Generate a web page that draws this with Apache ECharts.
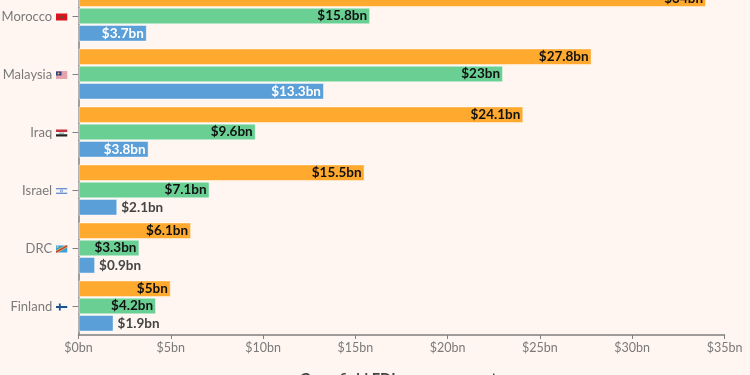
<!DOCTYPE html>
<html>
<head>
<meta charset="utf-8">
<style>
  html, body { margin: 0; padding: 0; background: #fff6f1; }
  #main { width: 750px; height: 375px; }
</style>
<script src="https://cdn.jsdelivr.net/npm/echarts@6/dist/echarts.min.js"></script>
</head>
<body>
<div id="main"></div>
<script>
const countries = ['Morocco', 'Malaysia', 'Iraq', 'Israel', 'DRC', 'Finland']
const orangeValues = [34, 27.8, 24.1, 15.5, 6.1, 5]
const greenValues = [15.8, 23, 9.6, 7.1, 3.3, 4.2]
const blueValues = [3.7, 13.3, 3.8, 2.1, 0.9, 1.9]
const xTicks = [0, 5, 10, 15, 20, 25, 30, 35]
const axisTitle = 'Greenfield FDI announcements'

// emoji flags have no colour font here, so small svg pictures stand in
const svgFlag = (inner) =>
  'data:image/svg+xml;charset=utf-8,' +
  encodeURIComponent(
    `<svg xmlns="http://www.w3.org/2000/svg" width="12" height="9" viewBox="0 0 12 9">${inner}</svg>`
  )
const flags = {
  Morocco: svgFlag('<rect y="1" width="12" height="7" fill="#d8141e"/><circle cx="6" cy="4.5" r="1.2" fill="#2a6b3a"/>'),
  Malaysia: svgFlag('<rect y="1" width="12" height="7" fill="#f3f3f3"/><rect y="1" width="12" height="1" fill="#d9546a"/><rect y="3" width="12" height="1" fill="#d9546a"/><rect y="5" width="12" height="1" fill="#d9546a"/><rect y="7" width="12" height="1" fill="#d9546a"/><rect y="1" width="6" height="4" fill="#2b3f8f"/><circle cx="3" cy="3" r="1" fill="#e8c53a"/>'),
  Iraq: svgFlag('<rect y="1" width="12" height="2.4" fill="#c8313e"/><rect y="3.4" width="12" height="2.3" fill="#f5f5f5"/><rect y="5.7" width="12" height="2.3" fill="#222"/><rect x="3.5" y="4.2" width="5" height="0.8" fill="#3f8f58"/>'),
  Israel: svgFlag('<rect y="1" width="12" height="7" fill="#f5f5f5"/><rect y="1.8" width="12" height="1" fill="#3b6fc4"/><rect y="6.2" width="12" height="1" fill="#3b6fc4"/><circle cx="6" cy="4.5" r="1.1" fill="none" stroke="#3b6fc4" stroke-width="0.6"/>'),
  DRC: svgFlag('<rect y="1" width="12" height="7" fill="#3a9fe0"/><path d="M0 8 L0 6.2 L9.5 1 L12 1 L12 2.8 L2.5 8 Z" fill="#e8c53a"/><path d="M0 8 L0 7 L11 1 L12 1 L12 2 L1.2 8 Z" fill="#c8313e"/><circle cx="2" cy="2.6" r="1" fill="#e8c53a"/>'),
  Finland: svgFlag('<rect y="1" width="12" height="7" fill="#f5f5f5"/><rect y="3.6" width="12" height="1.8" fill="#1f4f8f"/><rect x="3.4" y="1" width="1.8" height="7" fill="#1f4f8f"/>')
}
const flagRich = {}
countries.forEach((name) => {
  flagRich[name] = {
    width: 12,
    height: 9,
    backgroundColor: { image: flags[name] }
  }
})

const fontFamily = 'Lato, "Noto Sans", sans-serif'

const barLabel = (color) => ({
  show: true,
  position: 'insideRight',
  distance: 3,
  color: color,
  fontFamily: fontFamily,
  fontSize: 13.5,
  fontWeight: 'bold',
  formatter: (params) => '$' + params.value + 'bn'
})

// short blue bars carry the label outside, the long ones inside in white
const blueData = blueValues.map((value) => {
  if (value >= 3) return value
  return {
    value: value,
    label: { position: 'right', distance: 4, color: '#444444' }
  }
})

const barStyle = (color) => ({
  color: color,
  borderColor: 'rgba(255,255,255,0.45)',
  borderWidth: 1
})

const makeSeries = (data, color, labelColor) => ({
  type: 'bar',
  data: data,
  barWidth: 16.6,
  barGap: '4%',
  itemStyle: barStyle(color),
  label: barLabel(labelColor),
  emphasis: { disabled: true }
})

const myChart = echarts.init(document.getElementById('main'), null, { renderer: 'canvas' })
myChart.setOption({
  animation: false,
  backgroundColor: '#fff6f1',
  grid: { left: 78.5, right: 25.5, top: -13, height: 348, outerBoundsMode: 'none' },
  xAxis: {
    type: 'value',
    min: 0,
    max: 35,
    interval: 5,
    splitLine: { show: false },
    axisLine: { show: true, lineStyle: { color: '#808080', width: 1.5 } },
    axisTick: { show: true, length: 4, lineStyle: { color: '#808080' } },
    axisLabel: {
      color: '#7a7a7a',
      fontFamily: fontFamily,
      fontSize: 12.5,
      margin: 6,
      formatter: (value) => (xTicks.includes(value) ? '$' + value + 'bn' : '')
    },
    name: axisTitle,
    nameLocation: 'middle',
    nameGap: 37,
    nameTextStyle: {
      color: '#444444',
      fontFamily: fontFamily,
      fontSize: 14.7,
      fontWeight: 'bold',
      verticalAlign: 'top'
    }
  },
  yAxis: {
    type: 'category',
    data: countries,
    inverse: true,
    axisLine: { show: true, lineStyle: { color: '#808080', width: 1.5 } },
    axisTick: { show: true, alignWithLabel: true, length: 6, lineStyle: { color: '#808080' } },
    axisLabel: {
      color: '#7a7a7a',
      fontFamily: fontFamily,
      fontSize: 13,
      margin: 11,
      padding: [2, 0, 0, 0],
      formatter: (value) => `${value} {${value}|}`,
      rich: flagRich
    }
  },
  series: [
    makeSeries(orangeValues, '#ffa92f', '#111111'),
    makeSeries(greenValues, '#69cf93', '#111111'),
    makeSeries(blueData, '#5b9fd8', '#ffffff')
  ]
})
</script>
</body>
</html>
